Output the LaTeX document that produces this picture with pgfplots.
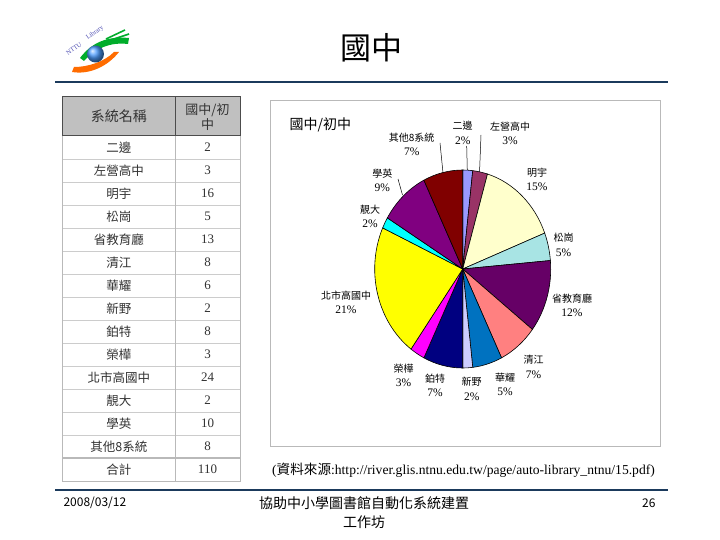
\documentclass[border=0pt]{standalone}
\usepackage{pgfplots}
\usepackage{pgfplotstable}
\pgfplotsset{compat=1.18}
\usepackage{fontspec}
\setmainfont{Liberation Serif}
\newfontfamily\cjk{Noto Sans CJK TC}
\newfontfamily\rom{Liberation Serif}

% Excel-style slice colours, in slice order
\definecolor{s0}{HTML}{9999FF}
\definecolor{s1}{HTML}{993366}
\definecolor{s2}{HTML}{FFFFCC}
\definecolor{s3}{HTML}{A8E4E4}
\definecolor{s4}{HTML}{660066}
\definecolor{s5}{HTML}{FF8080}
\definecolor{s6}{HTML}{0072C0}
\definecolor{s7}{HTML}{CCCCFF}
\definecolor{s8}{HTML}{000080}
\definecolor{s9}{HTML}{FF00FF}
\definecolor{s10}{HTML}{FFFF00}
\definecolor{s11}{HTML}{00FFFF}
\definecolor{s12}{HTML}{800080}
\definecolor{s13}{HTML}{800000}
\definecolor{navy}{HTML}{1B3A5C}
\definecolor{hdr}{HTML}{C0C0C0}

% name, count, shown percent, label position (px, y down)
\pgfplotstableread[col sep=comma]{
name,value,pct,lx,ly
二邊,2,2,462.7,126
左營高中,3,3,510,126.5
明宇,16,15,537,172.5
松崗,5,5,563.5,238
省教育廳,13,12,572,298.5
清江,8,7,533.5,360
華耀,6,5,505,377.5
新野,2,2,471.7,382
鉑特,8,7,435,378.5
榮樺,3,3,403.5,368.5
北市高國中,24,21,346,295.5
靚大,2,2,370,209.5
學英,10,9,382.3,173.5
其他8系統,8,7,411.7,137.5
}\sys
\def\total{110}

% slice angles from the counts
\def\cum{0}
\pgfplotsforeachungrouped \i in {0,...,13}{
  \pgfplotstablegetelem{\i}{value}\of\sys
  \pgfmathsetmacro\sa{90-\cum/\total*360}
  \pgfmathsetmacro\cum{\cum+\pgfplotsretval}
  \pgfmathsetmacro\ea{90-\cum/\total*360}
  \pgfmathsetmacro\cx{cos(\sa)}
  \pgfmathsetmacro\cy{sin(\sa)}
  \expandafter\xdef\csname sa\i\endcsname{\sa}
  \expandafter\xdef\csname ea\i\endcsname{\ea}
  \expandafter\xdef\csname cx\i\endcsname{\cx}
  \expandafter\xdef\csname cy\i\endcsname{\cy}
}

\begin{document}
\begin{tikzpicture}
\begin{scope}[x=1bp,y=-1bp]
  \path[use as bounding box, fill=white] (0,0) rectangle (720,540);

  % logo
  \fill[green!60!teal!85!black] (80,58) .. controls (92,42) and (108,36) .. (129,38)
     -- (128,44) .. controls (110,42) and (96,48) .. (84,61) -- cycle;
  \draw[green!60!teal!85!black, line width=1.6pt] (106,39) -- (125,30);
  \draw[green!60!teal!85!black, line width=1.6pt] (111,40) -- (129,34);
  \fill[orange!85!red] (72,72) .. controls (90,75) and (108,66) .. (119,52)
     -- (114,52) .. controls (104,62) and (88,67) .. (74,67) -- cycle;
  \shade[ball color=cyan!45!blue!70] (95.5,54) circle (8.5);
  \node[rotate=35, font=\rom\fontsize{6.5bp}{6.5bp}\selectfont, text=blue!40!gray] at (74,49) {NTTU};
  \node[rotate=35, font=\rom\fontsize{6.5bp}{6.5bp}\selectfont, text=blue!40!gray] at (95,33) {Library};

  % title and rules
  \node[font=\cjk\fontsize{31bp}{33bp}\selectfont] at (371,48) {國中};
  \draw[navy, line width=2.2pt] (55,82) -- (668,82);
  \draw[navy, line width=2.2pt] (55,490) -- (668,490);

  % footer
  \node[anchor=west, font=\cjk\fontsize{12bp}{14bp}\selectfont] at (60,503) {2008/03/12};
  \node[font=\cjk\fontsize{14bp}{16bp}\selectfont] at (364,503) {協助中小學圖書館自動化系統建置};
  \node[font=\cjk\fontsize{14bp}{16bp}\selectfont] at (364,522) {工作坊};
  \node[anchor=east, font=\cjk\fontsize{12bp}{14bp}\selectfont] at (659,503) {26};

  % data table
  \filldraw[fill=hdr, draw=gray!60!black, line width=1pt] (62.7,96.7) rectangle (240,136);
  \draw[gray!60!black, line width=1pt] (175,96.7) -- (175,136);
  \node[font=\cjk\fontsize{14bp}{16bp}\selectfont, text=black!80] at (118.9,116.5) {系統名稱};
  \node[font=\cjk\fontsize{13bp}{15bp}\selectfont, text=black!80] at (207.5,110) {國中/初};
  \node[font=\cjk\fontsize{13bp}{15bp}\selectfont, text=black!80] at (207.5,125) {中};
  \pgfplotsforeachungrouped \i in {1,...,14}{
    \pgfmathsetmacro\ry{136+\i*23}
    \draw[gray!40, line width=0.8pt] (62.7,\ry) -- (240,\ry);
  }
  \draw[gray!55, line width=1.6pt] (62.7,458) -- (240,458);
  \draw[gray!55, line width=0.8pt] (62.7,136) -- (62.7,481) -- (240,481) -- (240,136);
  \draw[gray!55, line width=0.8pt] (175,136) -- (175,481);
  \pgfplotsforeachungrouped \i in {0,...,13}{
    \pgfplotstablegetelem{\i}{name}\of\sys \let\nm\pgfplotsretval
    \pgfplotstablegetelem{\i}{value}\of\sys \let\vl\pgfplotsretval
    \pgfmathsetmacro\ry{136+(\i+0.5)*23}
    \node[font=\cjk\fontsize{12.5bp}{14bp}\selectfont, text=black!80] at (118.9,\ry) {\nm};
    \node[font=\rom\fontsize{13bp}{15bp}\selectfont, text=black!80] at (207.5,\ry) {\vl};
  }
  \node[font=\cjk\fontsize{12.5bp}{14bp}\selectfont, text=black!80] at (118.9,469.5) {合計};
  \node[font=\rom\fontsize{13bp}{15bp}\selectfont, text=black!80] at (207.5,469.5) {\total};

  % chart frame, title, labels
  \draw[gray!55, line width=0.8pt] (270,100) rectangle (660,446);
  \node[anchor=west, font=\cjk\fontsize{14bp}{16bp}\selectfont] at (286,125) {國中/初中};
  \pgfplotsforeachungrouped \i in {0,...,13}{
    \pgfplotstablegetelem{\i}{name}\of\sys \let\nm\pgfplotsretval
    \pgfplotstablegetelem{\i}{pct}\of\sys \let\pc\pgfplotsretval
    \pgfplotstablegetelem{\i}{lx}\of\sys \let\lx\pgfplotsretval
    \pgfplotstablegetelem{\i}{ly}\of\sys \let\ly\pgfplotsretval
    \pgfmathsetmacro\py{\ly+14.5}
    \node[font=\cjk\fontsize{10bp}{12bp}\selectfont] at (\lx,\ly) {\nm};
    \node[font=\rom\fontsize{11.5bp}{13bp}\selectfont] at (\lx,\py) {\pc\%};
  }
  % leader lines
  \draw[line width=0.5pt] (440,143) -- (443,173);
  \draw[line width=0.5pt] (466.7,146) -- (467.3,171);
  \draw[line width=0.5pt] (481,135) -- (479.5,173);
  \draw[line width=0.5pt] (398,179) -- (402.5,195);

  % source
  \node[anchor=west, inner sep=0pt, font=\rom\fontsize{13.6bp}{15bp}\selectfont] at (272,470)
    {({\cjk 資料來源}:http://river.glis.ntnu.edu.tw/page/auto-library\_ntnu/15.pdf)};
\end{scope}

\begin{axis}[
  at={(462.7bp,-269bp)}, anchor=center,
  scale only axis, width=176bp, height=198bp,
  xmin=-1, xmax=1, ymin=-1, ymax=1,
  enlargelimits=false, hide axis, clip=false]
\pgfplotsforeachungrouped \i in {0,...,13}{
  \edef\temp{\noexpand\filldraw[fill=s\i, draw=black, line width=0.6pt]
    (axis cs:0,0) -- (axis cs:\csname cx\i\endcsname,\csname cy\i\endcsname)
    arc[start angle=\csname sa\i\endcsname, end angle=\csname ea\i\endcsname,
        x radius=88bp, y radius=99bp] -- cycle;}
  \temp
}
\end{axis}
\end{tikzpicture}
\end{document}
